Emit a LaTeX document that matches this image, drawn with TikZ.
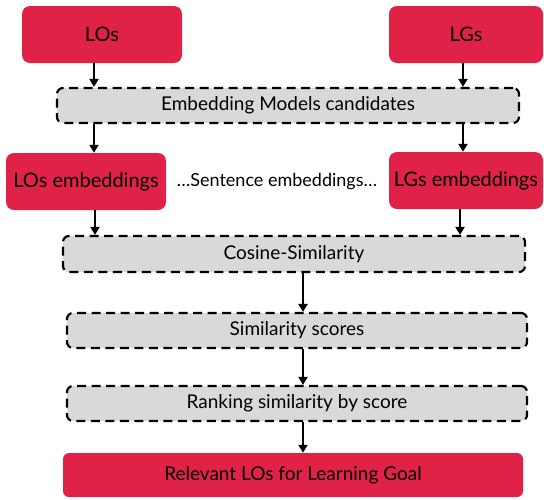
\documentclass[tikz,border=0pt]{standalone}
\usepackage{fontspec}
\setmainfont{Lato}
\usetikzlibrary{arrows.meta}
\definecolor{losred}{HTML}{E02246}
\definecolor{boxgray}{HTML}{D9D9D9}
\begin{document}
\begin{tikzpicture}[x=1pt,y=-1pt,
  redbox/.style={fill=losred,draw=none,rounded corners=8pt,inner sep=0pt,font=\fontsize{20}{24}\selectfont},
  graybox/.style={fill=boxgray,draw=black,line width=2.2pt,dash pattern=on 9pt off 5.5pt,rounded corners=6pt,inner sep=0pt,minimum height=35pt,minimum width=460pt,font=\fontsize{19}{22}\selectfont},
  arr/.style={line width=2.5pt,-{Triangle[length=8pt,width=9pt]}}]
\useasboundingbox (0,0) rectangle (544,499);
\node[redbox,minimum width=160pt,minimum height=57pt] (LOs) at (102,34.5) {LOs};
\node[redbox,minimum width=154pt,minimum height=57pt] (LGs) at (466,34.5) {LGs};
\node[graybox,minimum width=462pt] (Emb) at (288,105.5) {Embedding Models candidates};
\node[redbox,minimum width=160pt,minimum height=57pt] (LOsE) at (86,181.5) {LOs embeddings};
\node[redbox,minimum width=154pt,minimum height=57pt] (LGsE) at (466,180.5) {LGs embeddings};
\node[font=\fontsize{18}{21}\selectfont] (Sent) at (277,182) {\dots Sentence embeddings\dots};
\node[graybox,minimum width=462pt,minimum height=36pt] (Cos) at (294,254) {Cosine-Similarity};
\node[graybox] (Sim) at (297,330.5) {Similarity scores};
\node[graybox] (Rank) at (297,403.5) {Ranking similarity by score};
\node[redbox,minimum width=460pt,minimum height=44pt,rounded corners=6pt,font=\fontsize{19}{22}\selectfont] (Rel) at (293,475) {Relevant LOs for Learning Goal};
\draw[arr] ([xshift=-8pt]LOs.south) -- ([xshift=-8pt]LOs.south |- Emb.north);
\draw[arr] ([xshift=-3pt]LGs.south) -- ([xshift=-3pt]LGs.south |- Emb.north);
\draw[arr] ([xshift=8pt]LOsE.north |- Emb.south) -- ([xshift=8pt]LOsE.north);
\draw[arr] ([xshift=-3pt]LGsE.north |- Emb.south) -- ([xshift=-3pt]LGsE.north);
\draw[arr] ([xshift=9pt]LOsE.south) -- ([xshift=9pt]LOsE.south |- Cos.north);
\draw[arr] ([xshift=-6pt]LGsE.south) -- ([xshift=-6pt]LGsE.south |- Cos.north);
\draw[arr] ([xshift=9pt]Cos.south) -- ([xshift=9pt]Cos.south |- Sim.north);
\draw[arr] ([xshift=6pt]Sim.south) -- ([xshift=6pt]Sim.south |- Rank.north);
\draw[arr] ([xshift=6pt]Rank.south) -- ([xshift=6pt]Rank.south |- Rel.north);
\end{tikzpicture}
\end{document}
